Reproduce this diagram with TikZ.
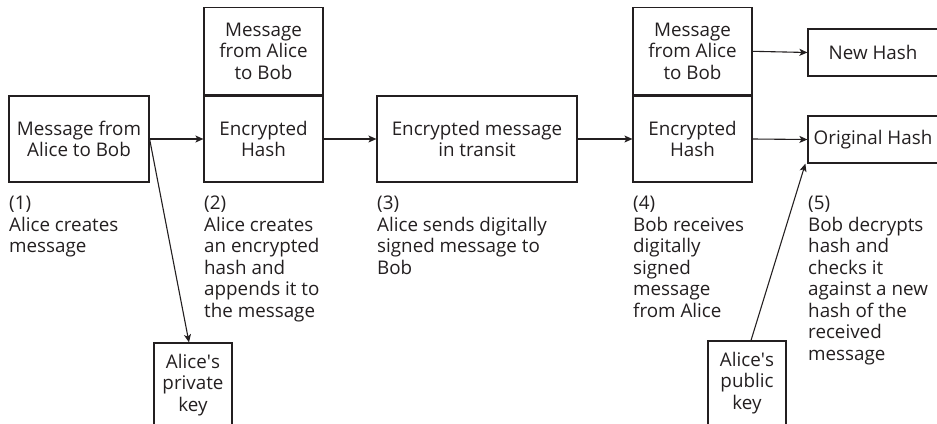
\documentclass[tikz,border=0pt]{standalone}
\usepackage{fontspec}
\setmainfont{Open Sans}
\usetikzlibrary{arrows.meta, positioning}
\definecolor{inkline}{HTML}{231F20}

\begin{document}
\begin{tikzpicture}[x=1pt, y=-1pt,
    font=\fontsize{18.8}{21.5}\selectfont, text=inkline,
    card/.style={draw=inkline, line width=1.2pt, align=center, inner sep=2pt},
    note/.style={anchor=north west, align=left, inner sep=0pt},
    flow/.style={-{Stealth[length=8pt, width=7pt, inset=2pt]}, draw=inkline, line width=1.1pt}]
  \useasboundingbox (0,0) rectangle (937,423);
  \clip (0,0) rectangle (937,423);
  \node[card, minimum width=140pt, minimum height=86pt] (msg1) at (79,139)
    {Message from\\Alice to Bob};
  \node[card, minimum width=119pt, minimum height=86pt] (hash2) at (263.5,139)
    {Encrypted\\Hash};
  \node[card, minimum width=119pt, minimum height=87pt, above=0pt of hash2] (msg2)
    {Message\\from Alice\\to Bob};
  \node[card, minimum width=200pt, minimum height=86pt] (transit) at (477,139)
    {Encrypted message\\in transit};
  \node[card, minimum width=119pt, minimum height=86pt] (hash4) at (692.5,139)
    {Encrypted\\Hash};
  \node[card, minimum width=119pt, minimum height=87pt, above=0pt of hash4] (msg4)
    {Message\\from Alice\\to Bob};
  \node[card, minimum width=130pt, minimum height=47pt] (newhash) at (873,52.5)
    {New Hash};
  \node[card, minimum width=130pt, minimum height=47pt] (orighash) at (873,139.5)
    {Original Hash};
  \node[card, minimum width=78pt, minimum height=84pt] (privkey) at (193,385)
    {Alice\textquotesingle s\\private\\key};
  \node[card, minimum width=78pt, minimum height=84pt] (pubkey) at (747,383)
    {Alice\textquotesingle s\\public\\key};
  \node[note] (step1) at (9,196) {(1)\\Alice creates\\message};
  \node[note] (step2) at (204,196) {(2)\\Alice creates\\an encrypted\\hash and\\appends it to\\the message};
  \node[note] (step3) at (377,196) {(3)\\Alice sends digitally\\signed message to\\Bob};
  \node[note] (step4) at (633,196) {(4)\\Bob receives\\digitally\\signed\\message\\from Alice};
  \node[note] (step5) at (808,196) {(5)\\Bob decrypts\\hash and\\checks it\\against a new\\hash of the\\received\\message};
  \draw[flow] (msg1.east) -- (hash2.west);
  \draw[flow] (hash2.east) -- (transit.west);
  \draw[flow] (transit.east) -- (hash4.west);
  \draw[flow] (msg4.east) -- (newhash.west);
  \draw[flow] (hash4.east) -- (orighash.west);
  \draw[flow] (msg1.east) -- ([xshift=-4pt]privkey.north);
  \draw[flow] ([xshift=4pt]pubkey.north) -- ([xshift=-2pt]orighash.south west);
\end{tikzpicture}
\end{document}
